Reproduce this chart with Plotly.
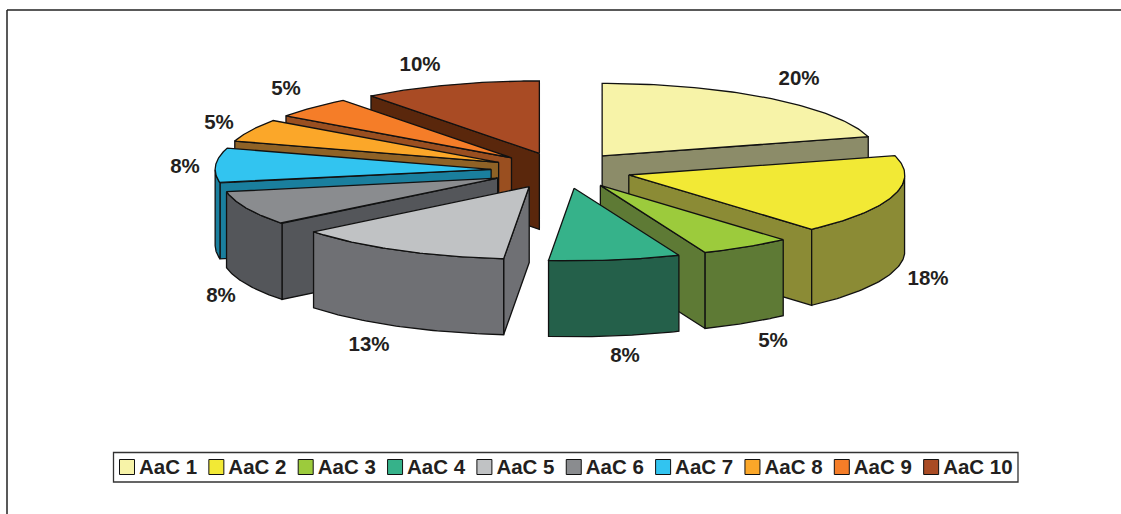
import numpy as np
import plotly.graph_objects as go

categories = ["AaC 1", "AaC 2", "AaC 3", "AaC 4", "AaC 5", "AaC 6", "AaC 7", "AaC 8", "AaC 9", "AaC 10"]
percent = [20, 18, 5, 8, 13, 8, 8, 5, 5, 10]
top_colors = ["#F7F3A8", "#F2E935", "#9CCB3C", "#36B28A", "#C0C2C4", "#8A8C8F", "#32C4F0", "#FBA729", "#F57D28", "#A94B24"]
side_colors = ["#8C8C69", "#8B8B35", "#5E7A35", "#24604A", "#6F7074", "#54565A", "#1A7F9E", "#8F6226", "#9A4F20", "#5A270C"]
label_x = [799, 928, 773, 625, 369, 221, 185, 219, 286, 420]
label_y = [80, 280, 342, 357, 346, 297, 168, 124, 90, 66]

W, H = 1121, 514
CX, CY = 561, 170.5    # pie centre in pixels
A, B = 276, 72.5       # ellipse radii
EA, EB = 70, 18        # explosion
DEPTH = 76
INK = "#111111"
TXT = "#231F20"
FONT = "Liberation Sans, Arial, sans-serif"

edges = np.cumsum([0] + percent) / sum(percent) * 2 * np.pi

# small perspective correction of the view angle (degrees)
WARP_AT = np.radians([0, 72, 137, 155, 184, 230, 260, 290, 306, 324, 360])
WARP_BY = np.radians([0, 2.6, 1.7, 2.9, 1.7, 1.0, 0, -1.0, -0.8, -1.6, 0])


def rim(t):
    t = np.asarray(t)
    v = t + np.interp(t, WARP_AT, WARP_BY)
    return A * np.sin(v), -B * np.cos(v)


def poly(xs, ys, fill, name):
    xs = list(xs) + [xs[0]]
    ys = list(ys) + [ys[0]]
    return go.Scatter(x=xs, y=ys, mode="lines", fill="toself", fillcolor=fill,
                      line=dict(color=INK, width=1.3), name=name, hoverinfo="name",
                      showlegend=False)


fig = go.Figure()
for i in [0, 1, 2, 3, 9, 8, 7, 6, 5, 4]:
    t0, t1 = edges[i], edges[i + 1]
    mid = (t0 + t1) / 2
    ax = CX + EA * np.sin(mid)
    ay = CY - EB * np.cos(mid)
    name = categories[i]
    # radial cut faces
    if np.sin(t1) > 0:
        dx, dy = rim(t1)
        fig.add_trace(poly([ax, ax + dx, ax + dx, ax], [ay, ay + dy, ay + dy + DEPTH, ay + DEPTH], side_colors[i], name))
    if np.sin(t0) < 0:
        dx, dy = rim(t0)
        fig.add_trace(poly([ax, ax + dx, ax + dx, ax], [ay, ay + dy, ay + dy + DEPTH, ay + DEPTH], side_colors[i], name))
    # outer curved wall
    lo, hi = max(t0, np.pi / 2), min(t1, 3 * np.pi / 2)
    if hi > lo:
        ts = np.linspace(lo, hi, 50)
        dx, dy = rim(ts)
        xs = np.concatenate([ax + dx, (ax + dx)[::-1]])
        ys = np.concatenate([ay + dy, (ay + dy + DEPTH)[::-1]])
        fig.add_trace(poly(xs, ys, side_colors[i], name))
    # top face
    ts = np.linspace(t0, t1, 70)
    dx, dy = rim(ts)
    fig.add_trace(poly(np.concatenate([[ax], ax + dx]), np.concatenate([[ay], ay + dy]), top_colors[i], name))

# percentage labels
fig.add_trace(go.Scatter(x=label_x, y=label_y, mode="text", text=[f"{p}%" for p in percent],
                         textfont=dict(family=FONT, size=20.5, color=TXT, weight="bold"), textposition="middle center",
                         showlegend=False, hoverinfo="skip"))

# legend row
LEG_X0, LEG_STEP, LEG_Y = 127, 89.35, 467
sw_x = [LEG_X0 + k * LEG_STEP for k in range(len(categories))]
fig.add_trace(go.Scatter(x=sw_x, y=[LEG_Y] * len(categories), mode="markers",
                         marker=dict(symbol="square", size=15, color=top_colors, line=dict(color=INK, width=1)),
                         showlegend=False, hoverinfo="skip"))
fig.add_trace(go.Scatter(x=[v + 12 for v in sw_x], y=[LEG_Y + 2] * len(categories), mode="text", text=categories,
                         textfont=dict(family=FONT, size=20.5, color=TXT, weight="bold"), textposition="middle right",
                         showlegend=False, hoverinfo="skip"))

shapes = [
    dict(type="rect", x0=113.5, x1=1018, y0=452.5, y1=482, line=dict(color="#333333", width=1.3), layer="below"),
    dict(type="line", x0=7, x1=7, y0=10, y1=H, line=dict(color="#222222", width=1.5)),
    dict(type="line", x0=7, x1=W, y0=10, y1=10, line=dict(color="#222222", width=1.5)),
]

fig.update_layout(
    width=W, height=H, margin=dict(l=0, r=0, t=0, b=0), showlegend=False,
    paper_bgcolor="white", plot_bgcolor="white", shapes=shapes,
    xaxis=dict(range=[0, W], visible=False, fixedrange=True),
    yaxis=dict(range=[H, 0], visible=False, fixedrange=True),
)
fig.write_html("out.html", post_script="document.body.style.margin='0';document.body.style.overflow='hidden';",
               config=dict(displayModeBar=False))
